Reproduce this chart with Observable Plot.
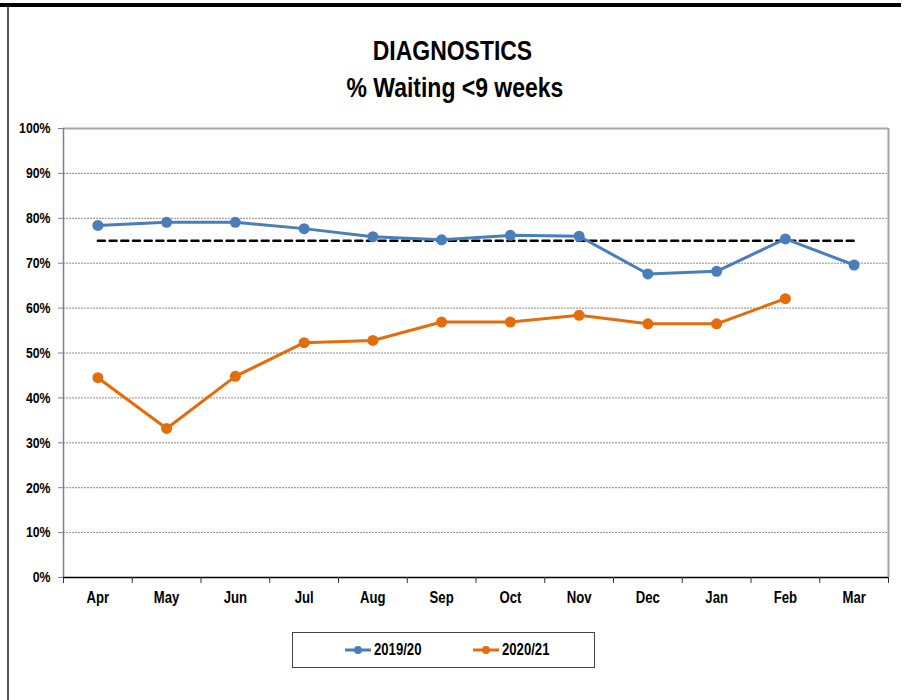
<!DOCTYPE html>
<html><head><meta charset="utf-8">
<script src="https://cdn.jsdelivr.net/npm/d3@7"></script>
<script src="https://cdn.jsdelivr.net/npm/@observablehq/plot@0.6"></script>
<style>
body{margin:0;background:#fff;}
#wrap{position:relative;width:906px;height:700px;overflow:hidden;font-family:"Liberation Sans",Arial,sans-serif;font-weight:bold;color:#000;}
#topbar{position:absolute;left:0;top:3px;width:901px;height:4px;background:#000;}
#leftbar{position:absolute;left:7px;top:7px;width:2px;height:693px;background:#555;}
#title{position:absolute;left:0;width:906px;top:32px;text-align:center;font-size:28px;line-height:37px;transform:scaleX(0.82);transform-origin:450px 0;}
#title div:nth-child(2){padding-left:6px;}
#chart{position:absolute;left:0;top:110px;}
#legend{position:absolute;left:292px;top:632px;width:301px;height:34px;border:1.5px solid #444;box-sizing:content-box;}
.item{position:absolute;top:0;height:34px;display:flex;align-items:center;font-size:16px;}
.item svg{display:block;margin-right:2px;}
.item span{display:inline-block;transform:scaleX(0.82);transform-origin:0 50%;}
</style>
</head><body>
<div id="wrap">
  <div id="topbar"></div>
  <div id="leftbar"></div>
  <div id="title"><div>DIAGNOSTICS</div><div>% Waiting &lt;9 weeks</div></div>
  <div id="chart"></div>
  <div id="legend"></div>
</div>
<script>
const months = ["Apr","May","Jun","Jul","Aug","Sep","Oct","Nov","Dec","Jan","Feb","Mar"];
const series1920 = [78.4, 79.1, 79.1, 77.7, 75.9, 75.2, 76.2, 76.0, 67.6, 68.2, 75.4, 69.6];
const series2021 = [44.5, 33.2, 44.8, 52.3, 52.8, 56.9, 56.9, 58.4, 56.5, 56.5, 62.1, null];
const targetValue = 75;
const yTicks = [0, 10, 20, 30, 40, 50, 60, 70, 80, 90, 100];
const seriesNames = ["2019/20", "2020/21"];
const seriesColors = ["#4a7ebb", "#e46c0a"];

const idx = months.map((m, i) => i);
const data1920 = idx.map(i => ({i, v: series1920[i]}));
const data2021 = idx.map(i => ({i, v: series2021[i]}));
const dataTarget = idx.map(i => ({i, v: targetValue}));
const bounds = d3.range(-0.5, months.length, 1);

const chart = Plot.plot({
  width: 906,
  height: 500,
  marginLeft: 63,
  marginRight: 18,
  marginTop: 18,
  marginBottom: 33,
  style: {fontFamily: '"Liberation Sans",Arial,sans-serif', fontWeight: "bold", background: "transparent", color: "#000"},
  x: {type: "linear", domain: [-0.5, months.length - 0.5]},
  y: {domain: [0, 100]},
  marks: [
    Plot.ruleY(yTicks.filter(d => d > 0 && d < 100), {stroke: "#8a8a8a", strokeWidth: 1, strokeDasharray: "2,1"}),
    Plot.ruleY([100], {stroke: "#a6a6a6", strokeWidth: 2}),
    Plot.ruleX([months.length - 0.5], {stroke: "#a6a6a6", strokeWidth: 2}),
    Plot.ruleX([-0.5], {stroke: "#808080", strokeWidth: 1.5}),
    Plot.axisY({ticks: yTicks, tickFormat: d => d + "%", tickSize: 5, tickPadding: 8, fontSize: 15, stroke: "#808080", fill: "#000", label: null}),
    Plot.ruleY([0], {stroke: "#000", strokeWidth: 1.5}),
    Plot.axisX({ticks: bounds, tickSize: 6, tickFormat: () => "", stroke: "#333", label: null}),
    Plot.axisX({ticks: idx, tickSize: 0, tickPadding: 14, tickFormat: i => months[i], fontSize: 16, fill: "#000", label: null}),
    Plot.lineY(dataTarget, {x: "i", y: "v", stroke: "#000", strokeWidth: 2.5, strokeDasharray: "7,4.7"}),
    Plot.lineY(data1920, {x: "i", y: "v", stroke: seriesColors[0], strokeWidth: 3}),
    Plot.dot(data1920, {x: "i", y: "v", r: 5.5, fill: seriesColors[0]}),
    Plot.lineY(data2021, {x: "i", y: "v", stroke: seriesColors[1], strokeWidth: 3}),
    Plot.dot(data2021.filter(d => d.v != null), {x: "i", y: "v", r: 5.5, fill: seriesColors[1]})
  ]
});
// condense the tick labels horizontally (narrow bold look)
chart.querySelectorAll("text").forEach(t => {
  const tr = t.getAttribute("transform") || "";
  t.setAttribute("transform", tr + " scale(0.82,1)");
});
document.getElementById("chart").appendChild(chart);

const legend = document.getElementById("legend");
const itemLefts = [51, 179];
seriesNames.forEach((name, k) => {
  const el = document.createElement("div");
  el.className = "item";
  el.style.left = itemLefts[k] + "px";
  el.innerHTML = `<svg width="28" height="12"><line x1="1" y1="6" x2="27" y2="6" stroke="${seriesColors[k]}" stroke-width="3"/><circle cx="14" cy="6" r="4" fill="${seriesColors[k]}"/></svg><span>${name}</span>`;
  legend.appendChild(el);
});
</script>
</body></html>
